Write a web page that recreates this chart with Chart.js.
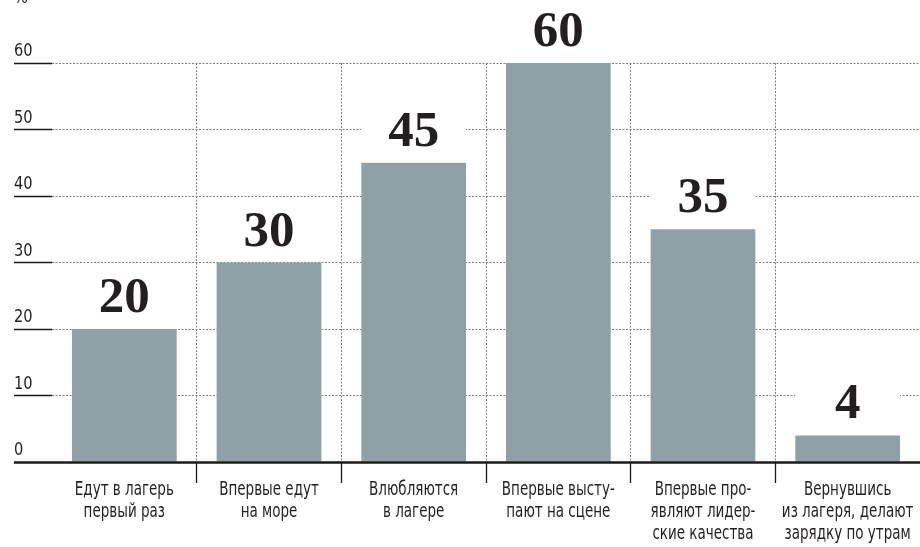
<!DOCTYPE html>
<html>
<head>
<meta charset="utf-8">
<script src="https://cdn.jsdelivr.net/npm/chart.js@4/dist/chart.umd.min.js"></script>
<style>
  html, body { margin: 0; padding: 0; background: #fff; }
  canvas { display: block; }
</style>
</head>
<body>
<canvas id="myChart" width="920" height="547"></canvas>
<script>
// chart data
var categories = [
  ["Едут в лагерь", "первый раз"],
  ["Впервые едут", "на море"],
  ["Влюбляются", "в лагере"],
  ["Впервые высту-", "пают на сцене"],
  ["Впервые про-", "являют лидер-", "ские качества"],
  ["Вернувшись", "из лагеря, делают", "зарядку по утрам"]
];
var values = [20, 30, 45, 60, 35, 4];
var yMin = 0, yMax = 60, yStep = 10;
var unitLabel = "%";

var narrow = '"Liberation Sans Narrow", "DejaVu Sans Condensed", "Roboto", sans-serif';
var ink = '#231f20';
var barColor = '#8fa1a7';

// draws text squeezed horizontally (the original uses a condensed face)
function squeezed(ctx, text, x, y, sx) {
  ctx.save();
  ctx.translate(x, y);
  ctx.scale(sx, 1);
  ctx.fillText(text, 0, 0);
  ctx.restore();
}

// value labels on a white box, tick labels, axis line on top
var decorations = {
  id: 'decorations',
  afterDatasetsDraw: function(chart) {
    var ctx = chart.ctx;
    var area = chart.chartArea;
    var xScale = chart.scales.x;
    var yScale = chart.scales.y;
    ctx.save();

    // axis line over the bar bottoms
    ctx.strokeStyle = '#1a1a1a';
    ctx.lineWidth = 2.5;
    ctx.beginPath();
    ctx.moveTo(area.left, area.bottom + 0.5);
    ctx.lineTo(area.right, area.bottom + 0.5);
    ctx.stroke();

    // value labels
    var meta = chart.getDatasetMeta(0);
    meta.data.forEach(function(bar, i) {
      var w = bar.width;
      ctx.fillStyle = '#fff';
      ctx.fillRect(bar.x - w / 2, bar.y - 50, w, 49.5);
      ctx.fillStyle = ink;
      ctx.font = 'bold 51px "Liberation Serif", "DejaVu Serif", serif';
      ctx.textAlign = 'center';
      ctx.textBaseline = 'alphabetic';
      ctx.fillText(String(values[i]), bar.x, bar.y - 17);
    });

    // y tick labels
    ctx.font = '18px ' + narrow;
    ctx.fillStyle = ink;
    ctx.textAlign = 'left';
    ctx.textBaseline = 'alphabetic';
    yScale.ticks.forEach(function(t) {
      var py = yScale.getPixelForValue(t.value);
      squeezed(ctx, String(t.value), 14, py - 7, 0.9);
    });
    squeezed(ctx, unitLabel, 14, yScale.getPixelForValue(yMax) - 60, 0.9);

    // category labels
    ctx.font = '19px ' + narrow;
    ctx.textAlign = 'center';
    categories.forEach(function(lines, i) {
      var px = xScale.getPixelForValue(i);
      lines.forEach(function(line, k) {
        squeezed(ctx, line, px, area.bottom + 33 + k * 22, 0.79);
      });
    });
    ctx.restore();
  }
};

function hideEdge(c) {
  return c.index === 0 || c.type !== 'tick';
}

function generateChart() {
  var chartId = document.getElementById("myChart");

  var data = {
    labels: categories,
    datasets: [{
      data: values,
      backgroundColor: barColor,
      borderWidth: 0,
      categoryPercentage: 1,
      barPercentage: 0.724
    }]
  };

  var options = {
    responsive: false,
    animation: false,
    layout: { padding: { left: 14, right: 0, top: 63, bottom: 0 } },
    plugins: {
      legend: { display: false },
      tooltip: { enabled: false }
    },
    scales: {
      x: {
        offset: true,
        grid: {
          offset: true,
          color: function(c) { return hideEdge(c) ? 'rgba(0,0,0,0)' : '#7d7d7d'; },
          lineWidth: 1,
          tickLength: 21,
          tickColor: function(c) { return hideEdge(c) ? 'rgba(0,0,0,0)' : '#1a1a1a'; },
          tickWidth: 1.3,
          tickBorderDash: []
        },
        border: { display: false, dash: [2, 1.5] },
        ticks: { display: false },
        afterFit: function(scale) { scale.height = 85; }
      },
      y: {
        min: yMin,
        max: yMax,
        ticks: { stepSize: yStep, display: false },
        grid: {
          color: function(c) { return c.index === 0 ? 'rgba(0,0,0,0)' : '#7d7d7d'; },
          lineWidth: 1,
          tickLength: 38,
          tickColor: '#1a1a1a',
          tickWidth: function(c) { return c.index === 0 ? 2.5 : 1.3; },
          tickBorderDash: []
        },
        border: { display: false, dash: [2, 1.5] },
        afterFit: function(scale) { scale.width = 38; }
      }
    }
  };

  var chart = new Chart(chartId, {
    type: 'bar',
    data: data,
    options: options,
    plugins: [decorations]
  });
}

generateChart();
</script>
</body>
</html>
